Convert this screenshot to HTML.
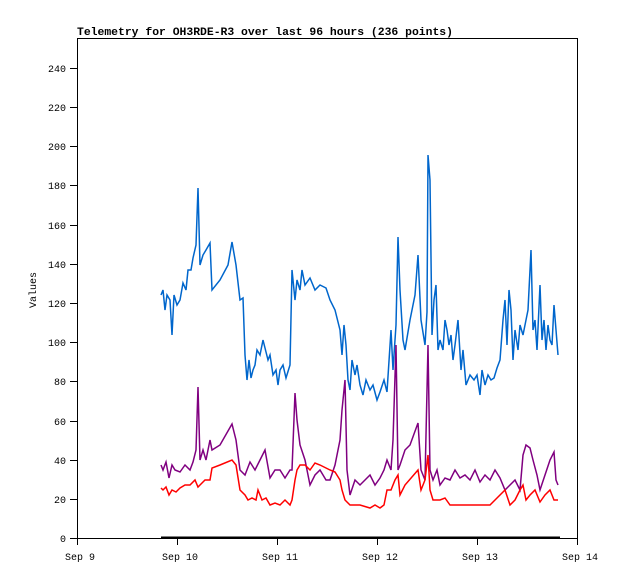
<!DOCTYPE html>
<html><head><meta charset="utf-8"><style>body{margin:0;background:#fff}svg{display:block}text{font-family:"Liberation Mono","DejaVu Sans Mono",monospace;font-size:10px}</style></head><body>
<svg width="618" height="579" xmlns="http://www.w3.org/2000/svg">
<text x="77" y="35" font-weight="bold" style="font-size:11.4px">Telemetry for OH3RDE-R3 over last 96 hours (236 points)</text>
<rect x="77.5" y="38.5" width="500" height="500" fill="none" stroke="#000"/>
<g stroke="#000">
<line x1="70" y1="538.5" x2="77" y2="538.5"/><line x1="70" y1="499.5" x2="77" y2="499.5"/><line x1="70" y1="460.5" x2="77" y2="460.5"/><line x1="70" y1="421.5" x2="77" y2="421.5"/><line x1="70" y1="381.5" x2="77" y2="381.5"/><line x1="70" y1="342.5" x2="77" y2="342.5"/><line x1="70" y1="303.5" x2="77" y2="303.5"/><line x1="70" y1="264.5" x2="77" y2="264.5"/><line x1="70" y1="225.5" x2="77" y2="225.5"/><line x1="70" y1="185.5" x2="77" y2="185.5"/><line x1="70" y1="146.5" x2="77" y2="146.5"/><line x1="70" y1="107.5" x2="77" y2="107.5"/><line x1="70" y1="68.5" x2="77" y2="68.5"/>
<line x1="77.5" y1="538" x2="77.5" y2="545"/><line x1="177.5" y1="538" x2="177.5" y2="545"/><line x1="277.5" y1="538" x2="277.5" y2="545"/><line x1="377.5" y1="538" x2="377.5" y2="545"/><line x1="477.5" y1="538" x2="477.5" y2="545"/><line x1="577.5" y1="538" x2="577.5" y2="545"/>
</g>
<g text-anchor="end">
<text x="66" y="542">0</text><text x="66" y="503">20</text><text x="66" y="464">40</text><text x="66" y="425">60</text><text x="66" y="385">80</text><text x="66" y="346">100</text><text x="66" y="307">120</text><text x="66" y="268">140</text><text x="66" y="229">160</text><text x="66" y="189">180</text><text x="66" y="150">200</text><text x="66" y="111">220</text><text x="66" y="72">240</text>
</g>
<g text-anchor="middle">
<text x="80" y="560">Sep 9</text><text x="180" y="560">Sep 10</text><text x="280" y="560">Sep 11</text><text x="380" y="560">Sep 12</text><text x="480" y="560">Sep 13</text><text x="580" y="560">Sep 14</text>
</g>
<text transform="translate(36,290) rotate(-90)" text-anchor="middle">Values</text>
<line x1="161" y1="537.5" x2="560" y2="537.5" stroke="#000" stroke-width="2"/>
<polyline fill="none" stroke="#0066cc" stroke-width="1.5" points="161,295 163,290 165,310 167,295 170,300 172,335 174,295 177,305 180,300 183,283 186,290 188,270 191,270 193,258 196,245 198,188 200,265 203,255 206,250 210,243 212,290 220,280 228,265 232,242 236,265 240,300 243,298 245,355 247,380 249,360 251,378 253,370 255,365 257,350 260,355 263,340 266,352 268,360 270,355 273,375 276,370 278,385 280,370 283,365 286,378 290,365 292,270 295,300 297,280 300,290 302,270 305,285 310,278 315,290 320,285 326,288 330,300 335,310 340,330 342,355 344,325 346,345 348,380 350,390 352,360 355,375 357,365 360,385 363,395 366,380 370,390 373,385 377,400 380,392 384,380 387,392 391,330 393,370 396,325 398,237 400,290 403,340 405,350 410,320 415,295 418,255 421,320 425,345 427,312 428,155 430,180 432,335 434,300 436,285 438,350 440,340 443,350 445,320 447,330 449,345 451,335 453,360 455,345 458,320 461,370 463,350 466,385 470,375 474,380 477,375 480,395 482,370 485,385 488,375 491,380 494,378 497,368 500,360 503,320 505,300 507,345 509,290 511,310 513,360 515,330 518,350 520,325 523,335 526,320 528,310 531,250 533,330 535,320 537,350 540,285 542,340 544,320 546,350 548,325 550,340 552,345 554,305 556,330 558,355"/>
<polyline fill="none" stroke="#800080" stroke-width="1.5" points="161,465 163,470 166,462 169,478 172,465 175,470 180,472 185,465 190,470 193,462 196,450 198,387 200,460 203,450 206,460 210,440 212,450 220,445 232,424 236,440 240,470 245,475 250,462 255,470 260,460 265,450 270,478 275,470 280,470 285,478 290,470 292,470 295,393 297,420 300,445 305,460 310,485 315,475 320,470 326,480 330,480 335,465 340,440 342,410 345,380 347,470 350,495 355,480 360,485 365,480 370,475 375,485 380,478 384,470 387,460 391,470 393,440 396,345 398,470 400,465 405,450 410,445 418,423 421,470 425,480 428,345 430,470 433,480 437,470 440,485 445,478 450,480 455,470 460,478 465,475 470,480 475,470 480,482 485,475 490,480 495,470 500,478 505,490 510,485 515,480 520,490 523,455 526,445 530,448 533,460 537,475 540,490 545,475 550,460 554,452 556,480 558,485"/>
<polyline fill="none" stroke="#ff0000" stroke-width="1.5" points="161,488 163,490 166,487 169,495 172,490 176,492 180,488 185,485 190,485 195,480 198,487 200,485 205,480 210,480 212,468 220,465 232,460 236,465 240,490 245,495 248,500 252,498 256,500 258,490 262,500 266,498 270,505 275,503 280,505 285,500 290,505 292,500 295,480 297,470 300,465 305,465 310,470 315,463 320,465 326,468 330,470 335,472 340,480 342,490 345,500 350,505 360,505 370,508 375,505 380,508 384,505 387,490 391,490 395,480 398,475 400,495 405,485 418,470 421,490 425,480 428,455 430,490 433,500 440,500 445,498 450,505 460,505 470,505 480,505 490,505 495,500 500,495 505,490 510,505 515,500 520,490 523,485 526,500 530,495 535,490 540,502 545,495 550,490 554,500 558,500"/>
</svg>
</body></html>
